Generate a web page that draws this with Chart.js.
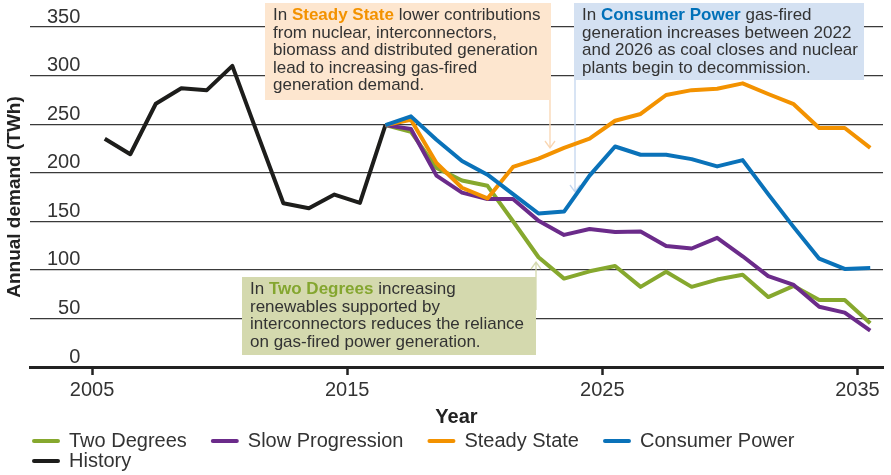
<!DOCTYPE html>
<html>
<head>
<meta charset="utf-8">
<script src="https://cdn.jsdelivr.net/npm/chart.js@4/dist/chart.umd.min.js"></script>
<style>
  html, body { margin: 0; padding: 0; background: #fff; }
  #wrap { width: 891px; height: 475px; }
</style>
</head>
<body>
<div id="wrap"><canvas id="chart"></canvas></div>
<script>
// Values are financial years, plotted in the middle of the year
const MID_YEAR = 0.5;

const historyYears = [2005, 2006, 2007, 2008, 2009, 2010, 2011, 2012, 2013, 2014, 2015, 2016];
const historyDemand = [235, 219, 271, 287, 285, 310, 239, 168.5, 163.5, 177.5, 169, 249];

const scenarioYears = [2016, 2017, 2018, 2019, 2020, 2021, 2022, 2023, 2024, 2025,
                       2026, 2027, 2028, 2029, 2030, 2031, 2032, 2033, 2034, 2035];
const twoDegrees      = [249, 242, 205, 192, 186.5, 150, 113, 91, 98.5, 104, 82.5, 98, 82.5, 90, 95, 72, 83.5, 69, 69, 45];
const slowProgression = [249, 245, 197, 179.5, 173, 173, 150.5, 136, 142, 139, 139.5, 124.5, 122, 133, 114, 93.5, 84.5, 62, 56, 37.5];
const steadyState     = [249, 254.5, 210, 184.5, 173.5, 206, 214.5, 225.5, 235, 253.5, 260.5, 280, 285, 286.5, 292, 281, 270.5, 246, 246, 225.5];
const consumerPower   = [249, 258, 234, 212, 198, 178, 158, 160, 197, 227, 218.5, 218.5, 214, 206.5, 213, 178, 144, 111.5, 101, 102];

const xTickYears = [2005, 2015, 2025, 2035];

const textColor = '#333333';
const fontFamily = '"Liberation Sans", Arial, sans-serif';

function toPoints(years, values) {
    return years.map((yr, i) => ({ x: yr + MID_YEAR, y: values[i] }));
}

function series(label, years, values, color, order) {
    return {
        label: label,
        data: toPoints(years, values),
        borderColor: color,
        backgroundColor: color,
        borderWidth: 4,
        borderJoinStyle: 'round',
        pointRadius: 0,
        tension: 0,
        order: order
    };
}

// Annotation boxes, text segments with an optional colour are drawn bold
const notes = [
    {
        x: 265, y: 3, w: 286, h: 97, fill: '#fde6cf',
        arrow: { x: 550, from: 100, to: 148, color: '#f9d6b2' },
        lines: [
            [['In '], ['Steady State', '#f39200'], [' lower contributions']],
            [['from nuclear, interconnectors,']],
            [['biomass and distributed generation']],
            [['lead to increasing gas-fired']],
            [['generation demand.']]
        ]
    },
    {
        x: 574, y: 3, w: 290, h: 77, fill: '#d4e1f2',
        arrow: { x: 575, from: 80, to: 192, color: '#c4d6ef' },
        lines: [
            [['In '], ['Consumer Power', '#0070b8'], [' gas-fired']],
            [['generation increases between 2022']],
            [['and 2026 as coal closes and nuclear']],
            [['plants begin to decommission.']]
        ]
    },
    {
        x: 242, y: 277, w: 294, h: 78, fill: '#d4d9ae',
        arrow: { x: 536, from: 310, to: 262, color: '#d4d9ae' },
        lines: [
            [['In '], ['Two Degrees', '#84a62f'], [' increasing']],
            [['renewables supported by']],
            [['interconnectors reduces the reliance']],
            [['on gas-fired power generation.']]
        ]
    }
];

function drawArrow(ctx, a) {
    const dir = a.to > a.from ? 1 : -1;
    ctx.strokeStyle = a.color;
    ctx.lineWidth = 1.3;
    ctx.beginPath();
    ctx.moveTo(a.x, a.from);
    ctx.lineTo(a.x, a.to);
    ctx.moveTo(a.x - 5, a.to - dir * 7);
    ctx.lineTo(a.x, a.to);
    ctx.lineTo(a.x + 5, a.to - dir * 7);
    ctx.stroke();
}

const notesPlugin = {
    id: 'notes',
    beforeDatasetsDraw(chart) {
        const ctx = chart.ctx;
        ctx.save();
        notes.forEach(n => {
            ctx.fillStyle = n.fill;
            ctx.fillRect(n.x, n.y, n.w, n.h);
            drawArrow(ctx, n.arrow);
            ctx.textBaseline = 'middle';
            ctx.textAlign = 'left';
            n.lines.forEach((line, i) => {
                let x = n.x + 8;
                const y = n.y + 12.5 + i * 17.5;
                line.forEach(([txt, color]) => {
                    ctx.font = (color ? 'bold ' : '') + '17px ' + fontFamily;
                    ctx.fillStyle = color || textColor;
                    ctx.fillText(txt, x, y);
                    x += ctx.measureText(txt).width;
                });
            });
        });
        ctx.restore();
    }
};

// Legend under the chart: line swatch + label, wrapped onto rows
const legendPlugin = {
    id: 'bottomLegend',
    afterDraw(chart) {
        const ctx = chart.ctx;
        ctx.save();
        ctx.font = '20px ' + fontFamily;
        ctx.textBaseline = 'middle';
        ctx.textAlign = 'left';
        let x = 32;
        let y = 441;
        chart.data.datasets.forEach(ds => {
            const w = 37 + ctx.measureText(ds.label).width;
            if (x + w > chart.width) {
                x = 32;
                y += 20;
            }
            ctx.strokeStyle = ds.borderColor;
            ctx.lineWidth = 4;
            ctx.lineCap = 'round';
            ctx.beginPath();
            ctx.moveTo(x + 2, y);
            ctx.lineTo(x + 26, y);
            ctx.stroke();
            ctx.fillStyle = textColor;
            ctx.fillText(ds.label, x + 37, y);
            x += w + 24;
        });
        ctx.restore();
    }
};

Chart.defaults.font.family = fontFamily;

new Chart(document.getElementById('chart'), {
    type: 'line',
    data: {
        datasets: [
            series('Two Degrees', scenarioYears, twoDegrees, '#86a82e', 3),
            series('Slow Progression', scenarioYears, slowProgression, '#6b2b8a', 2),
            series('Steady State', scenarioYears, steadyState, '#f39200', 1),
            series('Consumer Power', scenarioYears, consumerPower, '#0a72b9', 0),
            series('History', historyYears, historyDemand, '#1d1d1b', 4)
        ]
    },
    options: {
        responsive: true,
        maintainAspectRatio: false,
        animation: false,
        layout: { padding: { top: 27, right: 8, bottom: 43, left: 2 } },
        plugins: {
            legend: { display: false },
            tooltip: { enabled: false }
        },
        scales: {
            x: {
                type: 'linear',
                min: 2002.57,
                max: 2036,
                afterBuildTicks: s => { s.ticks = xTickYears.map(v => ({ value: v })); },
                ticks: {
                    color: textColor,
                    font: { size: 20 },
                    padding: 3,
                    maxRotation: 0,
                    autoSkip: false,
                    callback: v => String(v)
                },
                grid: {
                    drawOnChartArea: false,
                    drawTicks: true,
                    tickLength: 8,
                    tickWidth: 2.5,
                    tickColor: '#222'
                },
                border: { display: true, color: '#222', width: 3 },
                title: {
                    display: true,
                    text: 'Year',
                    color: '#222',
                    font: { size: 20, weight: 'bold' },
                    padding: { top: 0, bottom: 3 }
                }
            },
            y: {
                min: 0,
                max: 350,
                // labels sit inside the plot, so the axis only holds its title
                afterFit: s => {
                    s.width = 28;
                    s.paddingTop = 0;
                    s.paddingBottom = 0;
                },
                ticks: {
                    stepSize: 50,
                    mirror: true,
                    crossAlign: 'far',
                    padding: 17,
                    labelOffset: -10,
                    color: textColor,
                    font: { size: 20 }
                },
                grid: { color: '#3a3a3a', lineWidth: 1.2, drawTicks: false },
                border: { display: false },
                title: {
                    display: true,
                    text: 'Annual demand (TWh)',
                    color: '#222',
                    font: { size: 19, weight: 'bold' },
                    padding: { top: 1, bottom: 4 }
                }
            }
        }
    },
    plugins: [notesPlugin, legendPlugin]
});
</script>
</body>
</html>
